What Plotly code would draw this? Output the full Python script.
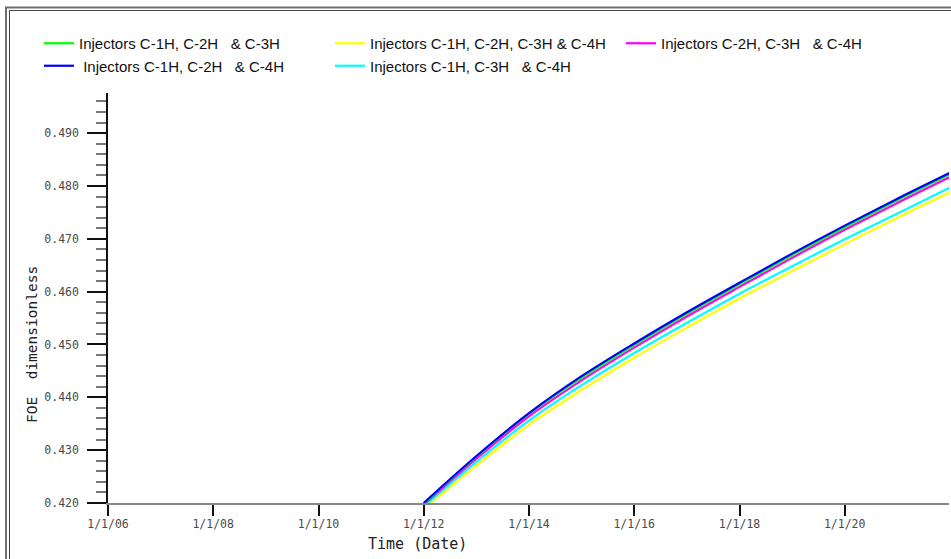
import plotly.graph_objects as go

years = ["2012-01-01", "2013-01-01", "2014-01-01", "2015-01-01", "2016-01-01", "2017-01-01",
         "2018-01-01", "2019-01-01", "2020-01-01", "2021-01-01", "2022-01-01"]

foe_c1_c2_c3 = [0.4199, 0.4288, 0.4369, 0.4437, 0.4499, 0.4558, 0.4614, 0.4669, 0.4722, 0.4773, 0.4822]
foe_c1_c2_c3_c4 = [0.4188, 0.4271, 0.4348, 0.4414, 0.4475, 0.4532, 0.4587, 0.4639, 0.4690, 0.4740, 0.4788]
foe_c2_c3_c4 = [0.4197, 0.4284, 0.4364, 0.4432, 0.4494, 0.4553, 0.4609, 0.4664, 0.4717, 0.4768, 0.4817]
foe_c1_c2_c4 = [0.4200, 0.4289, 0.4370, 0.4440, 0.4502, 0.4561, 0.4617, 0.4672, 0.4725, 0.4776, 0.4825]
foe_c1_c3_c4 = [0.4193, 0.4278, 0.4356, 0.4423, 0.4484, 0.4541, 0.4596, 0.4648, 0.4699, 0.4748, 0.4797]

NB = "\u00a0"
GAP = NB + NB + " "
series = [
    # (name, values, colour, legend rank) - drawn in this order
    ("Injectors C-1H, C-2H, C-3H & C-4H", foe_c1_c2_c3_c4, "#ffff00", 2),
    ("Injectors C-1H, C-3H" + GAP + "& C-4H", foe_c1_c3_c4, "#00ffff", 5),
    ("Injectors C-2H, C-3H" + GAP + "& C-4H", foe_c2_c3_c4, "#ff00ff", 3),
    ("Injectors C-1H, C-2H" + GAP + "& C-3H", foe_c1_c2_c3, "#00ff00", 1),
    (NB + "Injectors C-1H, C-2H" + GAP + "& C-4H", foe_c1_c2_c4, "#0000ff", 4),
]

fig = go.Figure()
for name, vals, col, rank in series:
    fig.add_trace(go.Scatter(x=years, y=vals, mode="lines", name=name,
                             line=dict(color=col, width=2.2, shape="spline"),
                             legendrank=rank))

L, R, T, B = 108, 2, 93, 56
W, H = 951, 559
pw, ph = W - L - R, H - T - B

def px_x(p):
    return (p - L) / pw

def px_y(p):
    return (H - B - p) / ph

tick_font = dict(family="DejaVu Sans Mono", size=11.5, color="#4a4a4a")

fig.update_layout(
    width=W, height=H,
    margin=dict(l=L, r=R, t=T, b=B),
    paper_bgcolor="white", plot_bgcolor="white",
    showlegend=True,
    legend=dict(orientation="h", x=px_x(39), xanchor="left", y=px_y(27), yanchor="top",
                font=dict(family="Liberation Sans", size=15, color="#111"),
                entrywidth=246, entrywidthmode="pixels", tracegroupgap=0,
                bgcolor="rgba(0,0,0,0)"),
    xaxis=dict(type="date", range=["2006-01-01", "2021-12-25"],
               tick0="2006-01-01", dtick="M24", tickformat="%-m/%-d/%y",
               ticks="outside", ticklen=11, tickwidth=2, tickcolor="#111",
               ticklabelstandoff=-2,
               showline=True, linecolor="#888", linewidth=2, showgrid=False, zeroline=False,
               tickfont=tick_font),
    yaxis=dict(range=[0.42, 0.4976], tick0=0.42, dtick=0.01, tickformat=".3f",
               ticks="outside", ticklen=19, tickwidth=2, tickcolor="#111",
               ticklabelstandoff=6,
               minor=dict(dtick=0.002, tick0=0.42, ticks="outside", ticklen=10, tickwidth=1.5,
                          tickcolor="#777", showgrid=False),
               showline=True, linecolor="#111", linewidth=1.5, showgrid=False, zeroline=False,
               tickfont=tick_font),
    annotations=[
        dict(text="FOE" + NB + " dimensionless", xref="paper", yref="paper",
             x=px_x(32), y=px_y(345), textangle=-90, showarrow=False,
             xanchor="center", yanchor="middle",
             font=dict(family="DejaVu Sans Mono", size=14.5, color="#222")),
        dict(text="Time (Date)", xref="paper", yref="paper",
             x=px_x(417), y=px_y(544), showarrow=False,
             xanchor="center", yanchor="middle",
             font=dict(family="DejaVu Sans Mono", size=15, color="#222")),
    ],
    shapes=[
        dict(type="rect", xref="paper", yref="paper",
             x0=px_x(6), x1=px_x(1000), y0=px_y(7.5), y1=px_y(700),
             line=dict(color="#6e6e6e", width=2), fillcolor="rgba(0,0,0,0)", layer="above"),
        dict(type="rect", xref="paper", yref="paper",
             x0=px_x(9.5), x1=px_x(1000), y0=px_y(10.5), y1=px_y(700),
             line=dict(color="#444", width=1), fillcolor="rgba(0,0,0,0)", layer="above"),
    ],
)

fig.write_html("out.html")
